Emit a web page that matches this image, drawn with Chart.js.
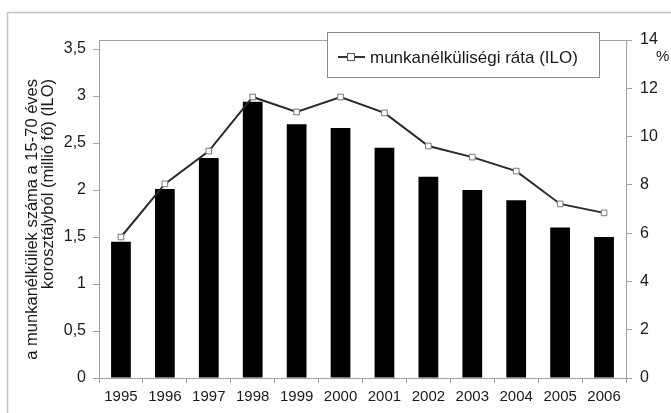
<!DOCTYPE html>
<html>
<head>
<meta charset="utf-8">
<script src="https://cdn.jsdelivr.net/npm/chart.js@4/dist/chart.umd.min.js"></script>
<style>
html,body{margin:0;padding:0;background:#fff;}
#wrap{width:671px;height:413px;position:relative;}
</style>
</head>
<body>
<div id="wrap"><canvas id="c" width="671" height="413"></canvas></div>
<script>
const years = ['1995','1996','1997','1998','1999','2000','2001','2002','2003','2004','2005','2006'];
const unemployedMillions = [1.45, 2.01, 2.34, 2.94, 2.70, 2.66, 2.45, 2.14, 2.00, 1.89, 1.60, 1.50];
const unemploymentRate = [5.84, 8.04, 9.40, 11.64, 11.02, 11.64, 10.98, 9.61, 9.15, 8.57, 7.21, 6.84];
const leftTicks = [0, 0.5, 1, 1.5, 2, 2.5, 3, 3.5];
const rightTicks = [0, 2, 4, 6, 8, 10, 12, 14];
const leftTitle = ['a munkanélküliek száma a 15-70 éves', 'korosztályból (millió fő) (ILO)'];
const rateLabel = 'munkanélküliségi ráta (ILO)';

const FONT = "'Liberation Sans', Arial, sans-serif";
const AXIS = '#a0a0a0';
const TXT = '#1a1a1a';

const decor = {
  id: 'decor',
  beforeDraw(chart) {
    const ctx = chart.ctx;
    const a = chart.chartArea;
    ctx.save();
    ctx.strokeStyle = '#c4c4c4';
    ctx.lineWidth = 1.5;
    ctx.beginPath();
    ctx.moveTo(7.5, 413);
    ctx.lineTo(7.5, 12.5);
    ctx.lineTo(671, 12.5);
    ctx.stroke();
    ctx.strokeStyle = AXIS;
    ctx.lineWidth = 1;
    ctx.beginPath();
    ctx.moveTo(a.left, a.top + 0.5);
    ctx.lineTo(a.right, a.top + 0.5);
    ctx.stroke();
    ctx.restore();
  },
  afterDraw(chart) {
    const ctx = chart.ctx;
    ctx.save();
    ctx.fillStyle = TXT;
    ctx.font = "16.5px " + FONT;
    ctx.textBaseline = 'middle';
    ctx.textAlign = 'right';
    const xs = [32, 48];
    leftTitle.forEach((t, i) => {
      ctx.save();
      ctx.translate(xs[i], 79);
      ctx.rotate(-Math.PI / 2);
      ctx.fillText(t, 0, 0);
      ctx.restore();
    });
    ctx.font = "15px " + FONT;
    ctx.textAlign = 'left';
    ctx.fillText('%', 656, 57);
    const bx = 327, by = 32, bw = 272, bh = 45;
    ctx.fillStyle = '#fff';
    ctx.fillRect(bx, by, bw, bh);
    ctx.strokeStyle = '#8a8a8a';
    ctx.lineWidth = 1;
    ctx.strokeRect(bx + 0.5, by + 0.5, bw, bh);
    const ly = 57;
    ctx.strokeStyle = '#333';
    ctx.lineWidth = 2;
    ctx.beginPath();
    ctx.moveTo(338, ly);
    ctx.lineTo(365, ly);
    ctx.stroke();
    ctx.fillStyle = '#fff';
    ctx.fillRect(347, ly - 4, 8, 8);
    ctx.strokeStyle = '#555';
    ctx.lineWidth = 1;
    ctx.strokeRect(347.5, ly - 3.5, 7, 7);
    ctx.fillStyle = TXT;
    ctx.font = "17px " + FONT;
    ctx.textAlign = 'left';
    ctx.textBaseline = 'middle';
    ctx.fillText(rateLabel, 370, ly + 1);
    ctx.restore();
  }
};

new Chart(document.getElementById('c'), {
  type: 'bar',
  data: {
    labels: years,
    datasets: [
      {
        type: 'line',
        label: rateLabel,
        data: unemploymentRate,
        yAxisID: 'y1',
        borderColor: '#2a2a2a',
        borderWidth: 2,
        pointStyle: 'rect',
        pointRadius: 4,
        pointBackgroundColor: '#fff',
        pointBorderColor: '#777',
        pointBorderWidth: 1,
        tension: 0,
        order: 0
      },
      {
        type: 'bar',
        label: 'munkanélküliek száma',
        data: unemployedMillions,
        yAxisID: 'y',
        backgroundColor: '#000',
        borderWidth: 0,
        barPercentage: 0.45,
        categoryPercentage: 1,
        order: 1
      }
    ]
  },
  options: {
    responsive: false,
    animation: false,
    devicePixelRatio: 1,
    layout: { padding: { top: 40, left: 0, right: 0, bottom: 0 } },
    plugins: { legend: { display: false }, tooltip: { enabled: false } },
    scales: {
      x: {
        grid: { display: true, drawOnChartArea: false, drawTicks: true, tickLength: 5, color: AXIS, offset: true },
        border: { display: true, color: AXIS },
        ticks: { font: { family: FONT, size: 15 }, color: TXT, padding: 5, maxRotation: 0, autoSkip: false },
        afterFit(s) { s.height = 35; }
      },
      y: {
        position: 'left',
        min: 0,
        max: 3.596,
        afterBuildTicks(s) { s.ticks = leftTicks.map(v => ({ value: v })); },
        grid: { display: true, drawOnChartArea: false, drawTicks: true, tickLength: 6, color: AXIS },
        border: { display: true, color: AXIS },
        ticks: {
          font: { family: FONT, size: 16 }, color: TXT, padding: 7,
          callback: v => String(v).replace('.', ',')
        },
        afterFit(s) { s.width = 99; }
      },
      y1: {
        position: 'right',
        min: 0,
        max: 14,
        afterBuildTicks(s) { s.ticks = rightTicks.map(v => ({ value: v })); },
        grid: { display: true, drawOnChartArea: false, drawTicks: true, tickLength: 6, color: AXIS },
        border: { display: true, color: AXIS },
        ticks: { font: { family: FONT, size: 16 }, color: TXT, padding: 8 },
        afterFit(s) { s.width = 45; }
      }
    }
  },
  plugins: [decor]
});
</script>
</body>
</html>
